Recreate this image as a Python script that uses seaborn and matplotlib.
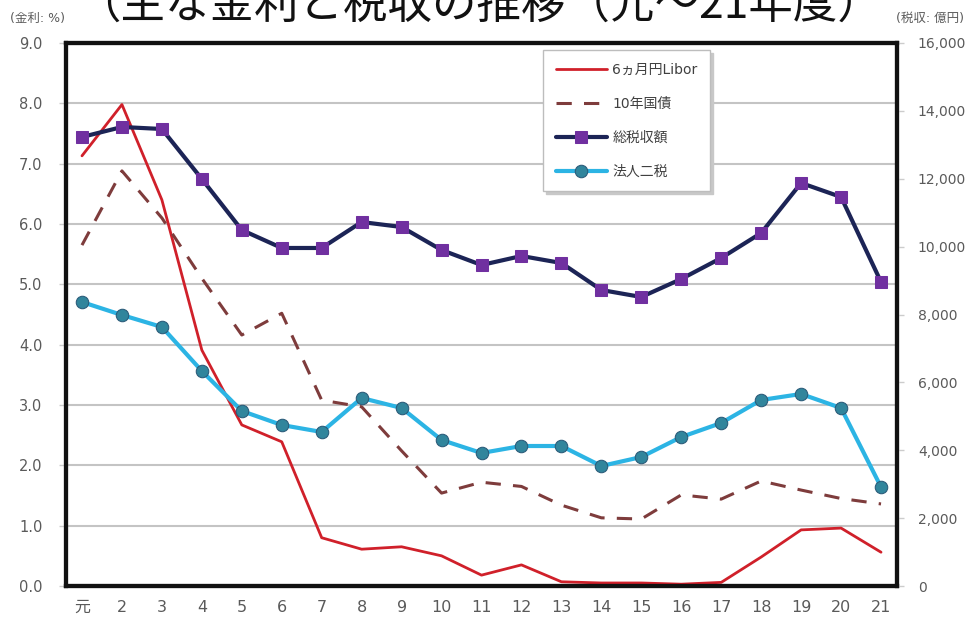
import matplotlib
matplotlib.use("Agg")
import matplotlib.pyplot as plt
from matplotlib.ticker import FuncFormatter
import seaborn as sns
import pandas as pd

years = ["元", "2", "3", "4", "5", "6", "7", "8", "9", "10", "11",
         "12", "13", "14", "15", "16", "17", "18", "19", "20", "21"]
libor = [7.13, 7.98, 6.40, 3.91, 2.67, 2.39, 0.80, 0.61, 0.65, 0.50, 0.18,
         0.35, 0.07, 0.05, 0.05, 0.03, 0.06, 0.48, 0.93, 0.96, 0.56]
jgb10 = [5.65, 6.88, 6.10, 5.10, 4.16, 4.52, 3.08, 2.97, 2.24, 1.54, 1.72,
         1.65, 1.34, 1.13, 1.11, 1.51, 1.44, 1.74, 1.59, 1.45, 1.36]
total_tax = [13230, 13525, 13466, 11993, 10490, 9960, 9960, 10725, 10578, 9900, 9458,
             9724, 9517, 8722, 8516, 9046, 9665, 10401, 11875, 11462, 8958]
corp_tax = [8368, 7985, 7632, 6335, 5157, 4744, 4538, 5540, 5245, 4302, 3919,
            4125, 4125, 3536, 3801, 4390, 4803, 5481, 5658, 5245, 2917]

series_names = ["6ヵ月円Libor", "10年国債", "総税収額", "法人二税"]
title_text = "（主な金利と税収の推移（元～21年度）"

sns.set_style("white")
plt.rcParams["font.family"] = ["DejaVu Sans", "Noto Sans CJK JP"]

df = pd.DataFrame({"x": list(range(len(years))), "libor": libor, "jgb": jgb10,
                   "total": total_tax, "corp": corp_tax})

fig = plt.figure(figsize=(9.68, 6.19), dpi=100)
ax = fig.add_axes([66 / 968, 1 - 586 / 619, (897 - 66) / 968, (586 - 43) / 619])
ax2 = ax.twinx()

sns.lineplot(data=df, x="x", y="libor", ax=ax, color="#d0202a", lw=2,
             label=series_names[0], legend=False)
sns.lineplot(data=df, x="x", y="jgb", ax=ax, color="#7e3c3c", lw=2.2,
             label=series_names[1], legend=False)
ax.lines[1].set_dashes([5, 4])

sns.lineplot(data=df, x="x", y="total", ax=ax2, color="#1c2456", lw=3,
             marker="s", markersize=8, markerfacecolor="#7030a0",
             markeredgecolor="#7030a0", label=series_names[2], legend=False)
sns.lineplot(data=df, x="x", y="corp", ax=ax2, color="#2cb4e4", lw=3,
             marker="o", markersize=9, markerfacecolor="#31859c",
             markeredgecolor="#2a5a78", label=series_names[3], legend=False)

ax.set_xlim(-0.4, len(years) - 0.6)
ax.set_ylim(0, 9)
ax2.set_ylim(0, 16000)
ax.set_xticks(range(len(years)))
ax.set_xticklabels(years)
ax.set_yticks([i * 1.0 for i in range(10)])
ax.yaxis.set_major_formatter(FuncFormatter(lambda v, p: f"{v:.1f}"))
ax2.set_yticks(range(0, 16001, 2000))
ax2.yaxis.set_major_formatter(FuncFormatter(lambda v, p: f"{int(v):,}"))
ax.set_xlabel("")
ax.set_ylabel("")
ax2.set_ylabel("")

ax.grid(axis="y", color="#c4c4c4", lw=1.5)
ax.set_axisbelow(True)
ax2.grid(False)

for a in (ax, ax2):
    for s in a.spines.values():
        s.set_color("#111111")
        s.set_linewidth(3)
ax.spines["left"].set_color("#444444")

tick_color = "#5a5a5a"
ax.tick_params(axis="y", labelsize=10.5, length=5, width=1,
               direction="out", pad=12, left=True, color="#cccccc")
ax.tick_params(axis="x", labelsize=11.5, length=0, pad=10)
ax2.tick_params(axis="y", labelsize=10, length=5, width=1,
                direction="out", pad=10, right=True, color="#cccccc")
for lab in ax.get_yticklabels() + ax2.get_yticklabels() + ax.get_xticklabels():
    lab.set_color(tick_color)

fig.text(10 / 968, 1 - 18 / 619, "(金利: %)", fontsize=9, color=tick_color,
         ha="left", va="center")
fig.text(964 / 968, 1 - 18 / 619, "(税収: 億円)", fontsize=9, color=tick_color,
         ha="right", va="center")
fig.text(0.495, 1 - 28 / 619, title_text, fontsize=32, color="#111111",
         ha="center", va="bottom", family=["Noto Sans CJK JP", "DejaVu Sans"])

handles = ax.get_lines()[:2] + ax2.get_lines()[:2]
leg = ax2.legend(handles, series_names, loc="upper left",
                 bbox_to_anchor=(543 / 968, 1 - 50 / 619),
                 bbox_transform=fig.transFigure, frameon=True, fancybox=False,
                 shadow={"color": "#c8c8c8", "alpha": 1.0}, edgecolor="#bdbdbd",
                 fontsize=10, handlelength=3.7, labelspacing=1.45, borderpad=0.9,
                 handletextpad=0.4, borderaxespad=0)
leg.get_frame().set_linewidth(1)
for t in leg.get_texts():
    t.set_color("#404040")

fig.savefig("out.png", dpi=100)
